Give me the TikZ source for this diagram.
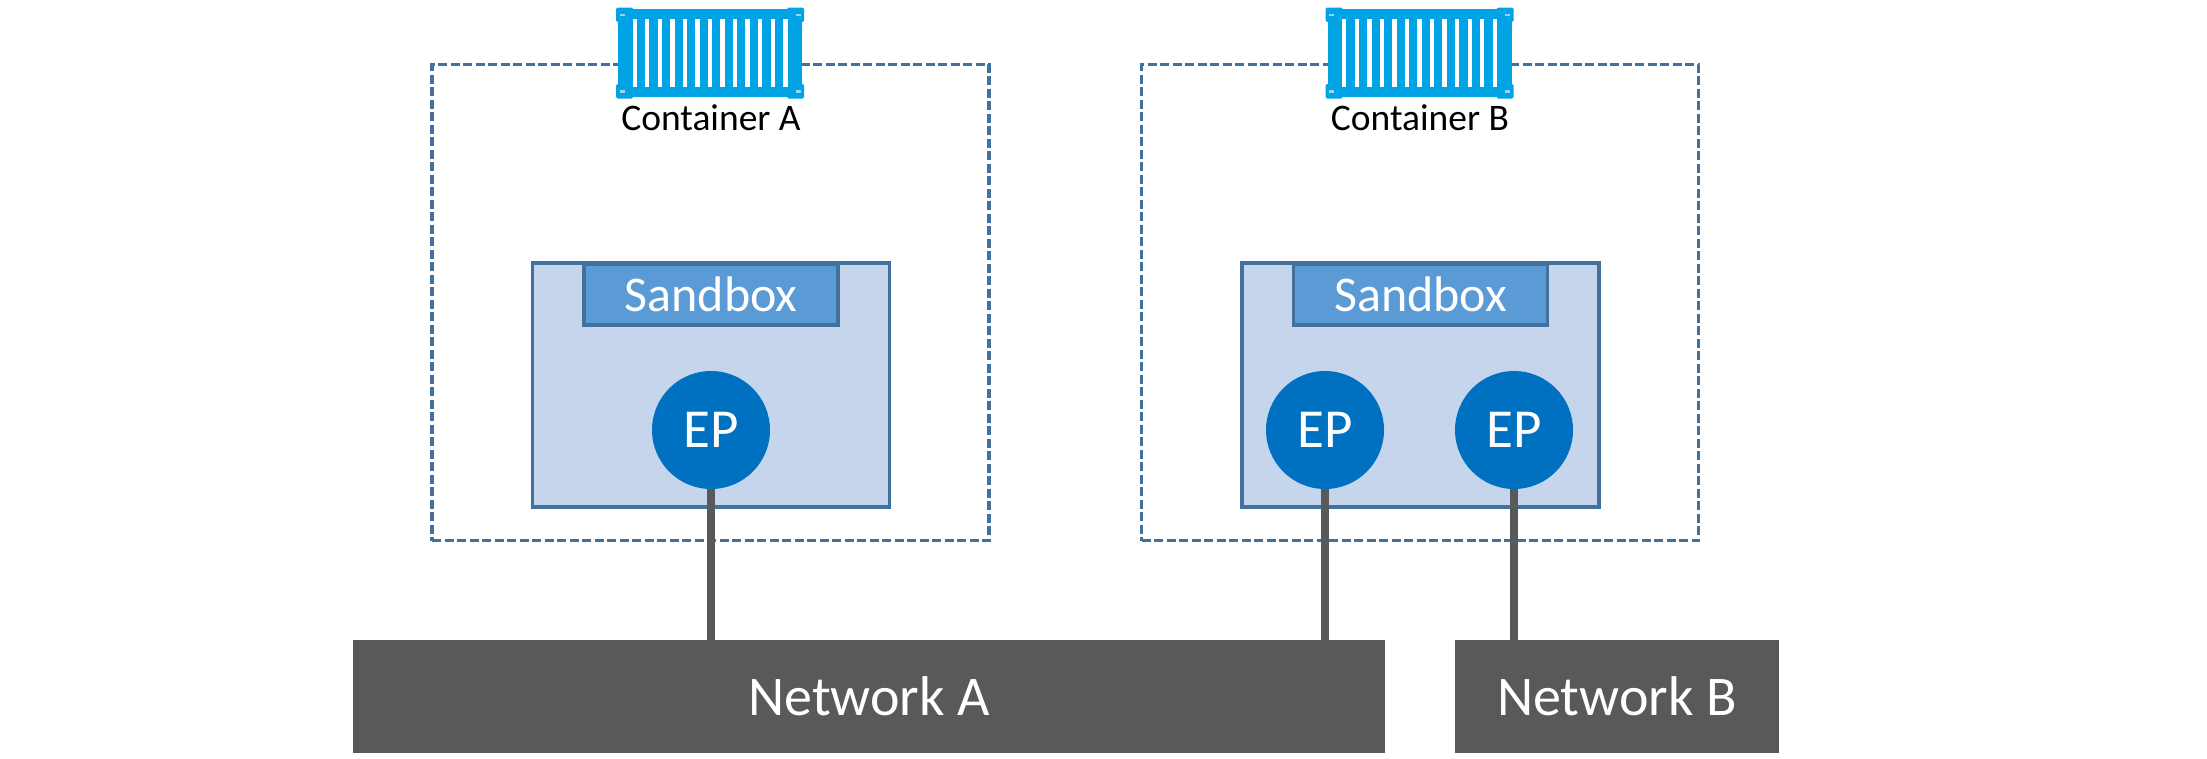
\documentclass[tikz,border=0pt]{standalone}
\usepackage{fontspec}
\setmainfont{Carlito}
\definecolor{edgeblue}{HTML}{41719C}
\definecolor{paleblue}{HTML}{C5D5EC}
\definecolor{midblue}{HTML}{5B9BD5}
\definecolor{epblue}{HTML}{0070C0}
\definecolor{netgrey}{HTML}{595959}
\definecolor{iconblue}{HTML}{00A3E4}
\definecolor{iconmark}{HTML}{9AD6F2}
\tikzset{
    containericon/.pic={
        \fill[iconblue] (-92,-44) rectangle (92,44);
        \foreach \sx in {-1,1} \foreach \sy in {-1,1} {
            \fill[iconblue, rounded corners=1.5] (\sx*94,\sy*45.5) rectangle (\sx*77,\sy*31);
            \fill[iconmark] (\sx*90.5,\sy*39.5) rectangle (\sx*85.5,\sy*37);
        }
        \foreach \i in {-6,...,6}
            \fill[white] (\i*12.55-2.2,-34) rectangle (\i*12.55+2.2,34);
    }
}
\begin{document}
\begin{tikzpicture}[x=1pt, y=-1pt]
    \tikzstyle{outerbox}=[draw=edgeblue, line width=3.5pt, dash pattern=on 9pt off 3.5pt, minimum width=557pt, minimum height=476pt, inner sep=0pt]
    \tikzstyle{sandbox}=[draw=edgeblue, fill=paleblue, line width=3.5pt, minimum width=357pt, minimum height=244pt, inner sep=0pt]
    \tikzstyle{tab}=[draw=edgeblue, fill=midblue, line width=3.5pt, text=white, font=\fontsize{50}{50}\selectfont, minimum width=254pt, minimum height=61pt, inner sep=0pt]
    \tikzstyle{ep}=[circle, fill=epblue, text=white, font=\fontsize{55}{55}\selectfont, minimum size=118pt, inner sep=0pt]
    \tikzstyle{net}=[fill=netgrey, text=white, font=\fontsize{56}{56}\selectfont, minimum height=113.5pt, inner sep=0pt]
    \tikzstyle{lbl}=[font=\fontsize{37.5}{37.5}\selectfont, inner sep=0pt]
    \tikzstyle{wire}=[draw=netgrey, line width=8pt]

    \useasboundingbox (0,0) rectangle (2207,758);

    % Nodes
    \node[outerbox] (boxa) at (710.5,302.5) {};
    \node[outerbox] (boxb) at (1420,302.5) {};

    \pic at (710,53) {containericon};
    \pic at (1419.5,53) {containericon};

    \node[lbl] (conta) at (711,117.5) {Container A};
    \node[lbl] (contb) at (1420,117.5) {Container B};

    \node[sandbox] (outa) at (711,385) {};
    \node[sandbox] (outb) at (1420.5,385) {};

    \node[tab] (saba) at (711,294.5) {Sandbox};
    \node[tab] (sabb) at (1420.5,294.5) {Sandbox};

    \node[ep] (epa) at (711,430) {EP};
    \node[ep] (epb) at (1325,430) {EP};
    \node[ep] (epc) at (1514,430) {EP};

    \node[net, minimum width=1032pt] (neta) at (869,696.5) {Network A};
    \node[net, minimum width=324pt] (netb) at (1617,696.5) {Network B};

    % Edges
    \draw[wire] (epa.south) -- (epa.south |- neta.north);
    \draw[wire] (epb.south) -- (epb.south |- neta.north);
    \draw[wire] (epc.south) -- (epc.south |- netb.north);
\end{tikzpicture}
\end{document}
